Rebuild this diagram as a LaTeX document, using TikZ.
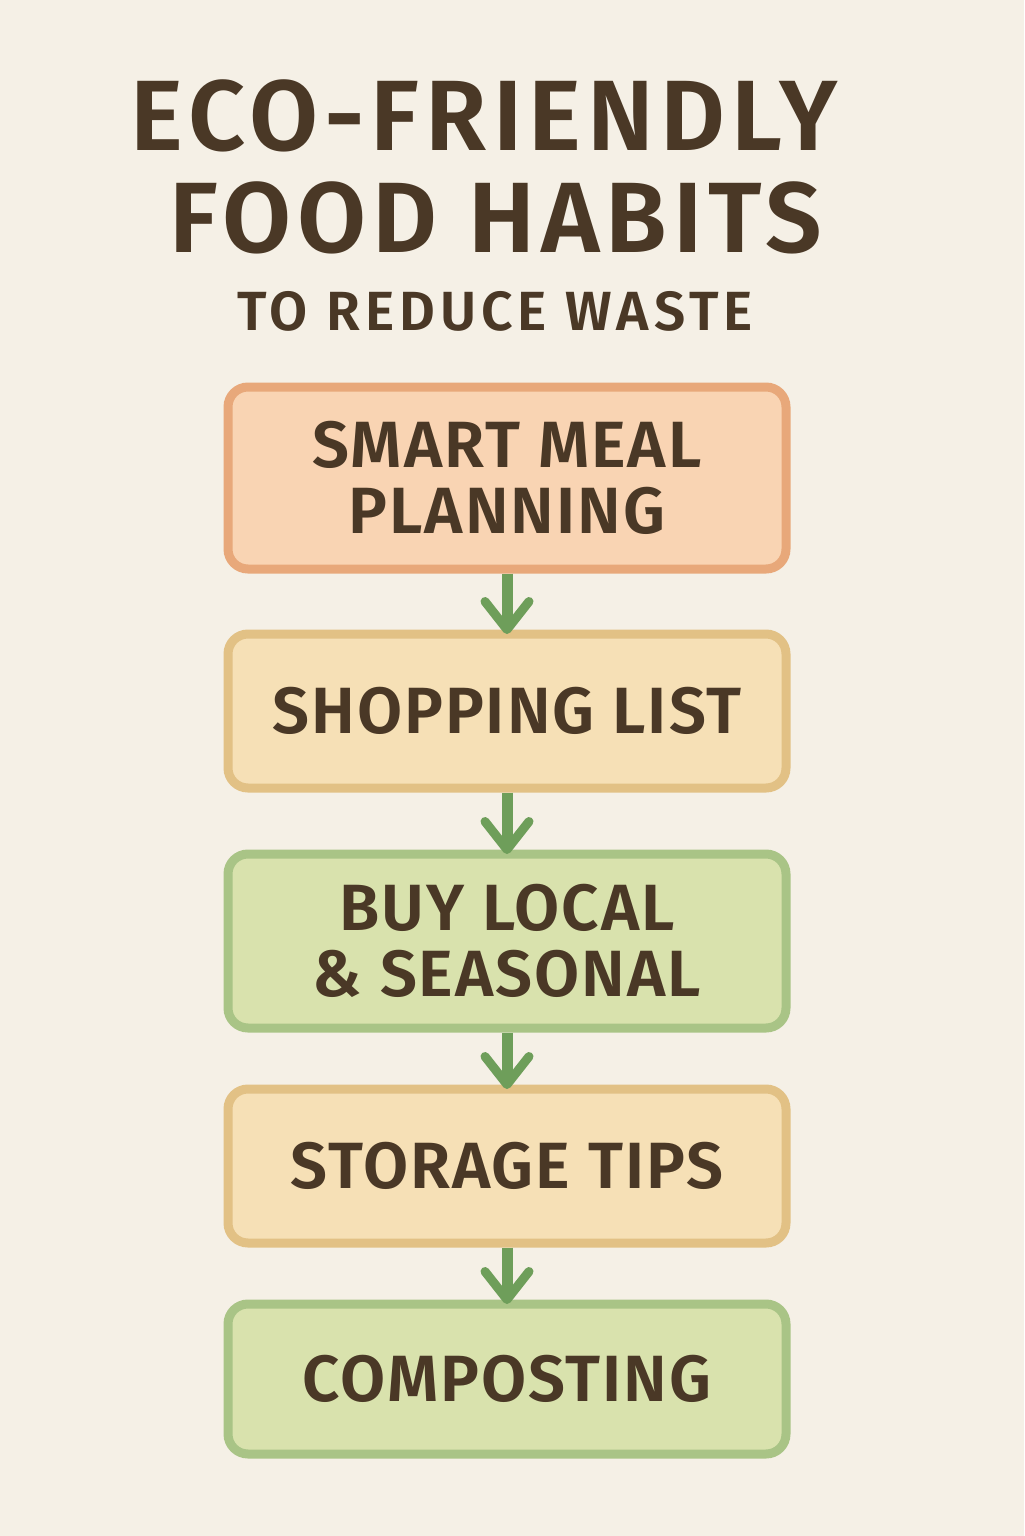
\documentclass[tikz,border=0pt]{standalone}
\usepackage{fontspec}
\setmainfont{Fira Sans}
\newfontfamily\ff{Fira Sans SemiBold}[LetterSpace=3]
\newfontfamily\fft{Fira Sans SemiBold}[LetterSpace=6]
\newfontfamily\ffs{Fira Sans SemiBold}[LetterSpace=9]
\usetikzlibrary{calc}
\definecolor{bg}{HTML}{F5F0E6}
\definecolor{ink}{HTML}{4A3826}
\definecolor{bAf}{HTML}{F9D4B3}
\definecolor{bAs}{HTML}{E8A87A}
\definecolor{bBf}{HTML}{F6E0B6}
\definecolor{bBs}{HTML}{E2C185}
\definecolor{bCf}{HTML}{D9E2AD}
\definecolor{bCs}{HTML}{A9C486}
\definecolor{arrc}{HTML}{6E9E5A}
\begin{document}
\begin{tikzpicture}[x=0.5pt,y=-0.5pt]
\fill[bg] (0,0) rectangle (1024,1536);
\useasboundingbox (0,0) rectangle (1024,1536);
\tikzset{
  box/.style={rounded corners=10pt, line width=4.5pt, minimum width=279pt, inner sep=0pt,
    align=center, text=ink, font=\ff\fontsize{32.7}{33}\selectfont},
  boxA/.style={box, draw=bAs, fill=bAf},
  boxB/.style={box, draw=bBs, fill=bBf},
  boxC/.style={box, draw=bCs, fill=bCf},
  arrstem/.style={draw=arrc, line width=5.5pt},
  arrhead/.style={draw=arrc, line width=4.5pt, line cap=round, line join=round},
  title/.style={anchor=base, text=ink, inner sep=0pt}
}
\node[title, font=\fft\fontsize{50}{50}\selectfont] (t1) at (484,150) {ECO-FRIENDLY};
\node[title, font=\fft\fontsize{50}{50}\selectfont] (t2) at (496,252) {FOOD HABITS};
\node[title, font=\ffs\fontsize{27.6}{28}\selectfont] (t3) at (495,330) {TO REDUCE WASTE};

\node[boxA, minimum height=91pt] (n1) at (507,478) {SMART MEAL\\PLANNING};
\node[boxB, minimum height=77pt] (n2) at (507,711) {SHOPPING LIST};
\node[boxC, minimum height=87pt] (n3) at (507,941) {BUY LOCAL\\\& SEASONAL};
\node[boxB, minimum height=77pt] (n4) at (507,1166) {STORAGE TIPS};
\node[boxC, minimum height=75pt] (n5) at (507,1379) {COMPOSTING};

\foreach \a/\b in {n1/n2,n2/n3,n3/n4,n4/n5}{
  \draw[arrstem] (\a.south) -- ($(\b.north)+(0,-6)$);
  \draw[arrhead] ($(\b.north)+(-22,-28)$) -- (\b.north) -- ($(\b.north)+(22,-28)$);
}
\end{tikzpicture}
\end{document}
